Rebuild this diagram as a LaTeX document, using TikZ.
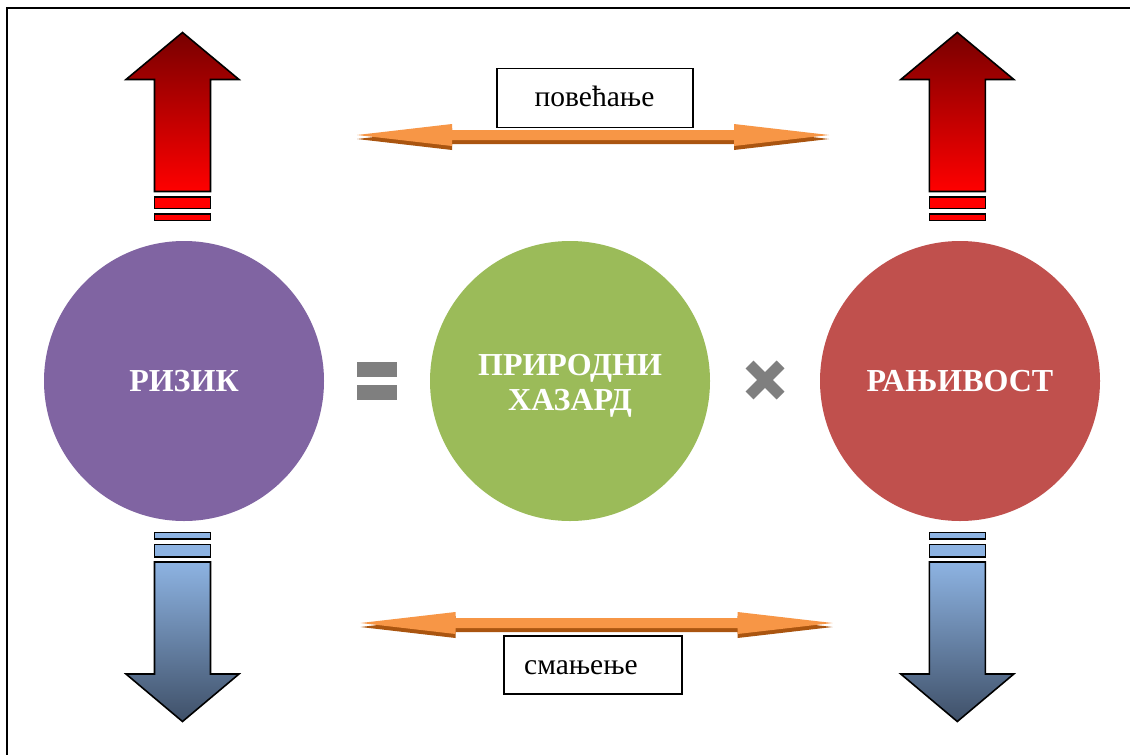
\documentclass[tikz,border=0pt]{standalone}
\usepackage{fontspec}
\setmainfont{Liberation Serif}
\definecolor{cpurple}{HTML}{8064A2}
\definecolor{cgreen}{HTML}{9BBB59}
\definecolor{cred}{HTML}{C0504D}
\definecolor{adark}{HTML}{780000}
\definecolor{alight}{HTML}{FF0000}
\definecolor{blight}{HTML}{8DB3E2}
\definecolor{bdark}{HTML}{3F5068}
\definecolor{orlight}{HTML}{F79646}
\definecolor{ordark}{HTML}{AA5510}
\definecolor{symgray}{HTML}{7F7F7F}
\begin{document}
\begin{tikzpicture}[x=1pt,y=-1pt,
  circ/.style={circle, minimum size=280pt, inner sep=0pt, text=white,
    font=\fontsize{32}{35}\selectfont\bfseries, align=center},
  lblbox/.style={draw=black, line width=1.2pt, fill=white, inner sep=0pt},
  lbltext/.style={font=\fontsize{29.5}{32}\selectfont, inner sep=0pt},
  arrline/.style={draw=black, line width=1.6pt, line join=miter},
  uparrow/.pic={
    \shade[top color=adark, bottom color=alight] (0,0) -- (56.5,47) -- (28,47) -- (28,159) -- (-28,159) -- (-28,47) -- (-56.5,47) -- cycle;
    \draw[arrline] (0,0) -- (56.5,47) -- (28,47) -- (28,159) -- (-28,159) -- (-28,47) -- (-56.5,47) -- cycle;
    \draw[arrline, fill=alight] (-28,164.5) rectangle (28,176);
    \draw[arrline, fill=alight] (-28,181.5) rectangle (28,188);
  },
  downarrow/.pic={
    \shade[top color=blight, bottom color=bdark] (0,0) -- (56.5,-47.5) -- (28,-47.5) -- (28,-159.5) -- (-28,-159.5) -- (-28,-47.5) -- (-56.5,-47.5) -- cycle;
    \draw[arrline] (0,0) -- (56.5,-47.5) -- (28,-47.5) -- (28,-159.5) -- (-28,-159.5) -- (-28,-47.5) -- (-56.5,-47.5) -- cycle;
    \draw[arrline, fill=blight] (-28,-164.5) rectangle (28,-177);
    \draw[arrline, fill=blight] (-28,-182.5) rectangle (28,-189);
  },
  dblarrow/.pic={
    \fill[ordark] (-236,4) -- (-141,-7) -- (-141,-1) -- (141,-1) -- (141,-7) -- (236,4) -- (141,15) -- (141,9) -- (-141,9) -- (-141,15) -- cycle;
    \fill[orlight] (-236,0) -- (-141,-11) -- (-141,-5) -- (141,-5) -- (141,-11) -- (236,0) -- (141,11) -- (141,5) -- (-141,5) -- (-141,11) -- cycle;
  }
]
\useasboundingbox (0,0) rectangle (1130,755);
\fill[white] (0,0) rectangle (1130,755);
% frame
\draw[line width=2pt] (7,760) -- (7,8) -- (1135,8);

% circles
\node[circ, fill=cpurple] (rizik) at (184,381) {РИЗИК};
\node[circ, fill=cgreen] (hazard) at (570,381) {};
\node[text=white, font=\fontsize{32}{35}\selectfont\bfseries, align=center, inner sep=0pt, anchor=base] (hazardtext) at (570,410) {ПРИРОДНИ\\ХАЗАРД};
\node[circ, fill=cred] (ranjivost) at (960,381) {РАЊИВОСТ};

% equals sign
\fill[symgray] (357,362) rectangle (397,377);
\fill[symgray] (357,384.5) rectangle (397,399.5);
% times sign
\draw[symgray, line width=11pt] (749.5,364.5) -- (780.5,395.5);
\draw[symgray, line width=11pt] (749.5,395.5) -- (780.5,364.5);

% vertical arrows
\pic at (182.5,32.5) {uparrow};
\pic at (957.3,32.5) {uparrow};
\pic at (182.5,721.5) {downarrow};
\pic at (957.3,721.5) {downarrow};

% horizontal double arrows
\pic at (593,135) {dblarrow};
\pic at (596.5,623) {dblarrow};

% label boxes
\node[lblbox, minimum width=196pt, minimum height=59.5pt] (povbox) at (595,98) {};
\node[lbltext, anchor=base] (povtext) at (594.5,106.7) {повећање};
\node[lblbox, minimum width=178pt, minimum height=58pt] (smbox) at (593,665) {};
\node[lbltext, anchor=base west] (smtext) at (524,674) {смањење};
\end{tikzpicture}
\end{document}
